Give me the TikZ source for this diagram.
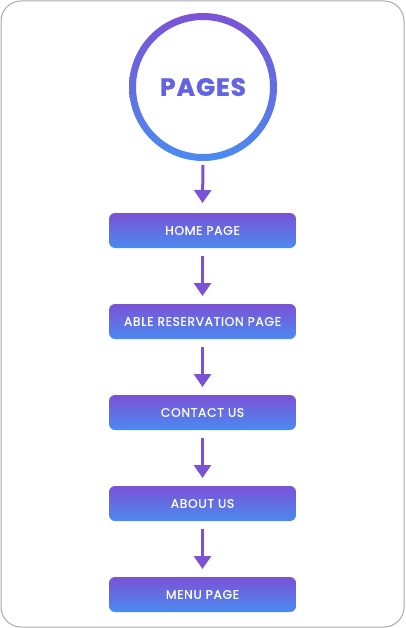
\documentclass[tikz,border=0pt]{standalone}
\usepackage{fontspec}
\setmainfont{Poppins}
\newfontfamily\boxfont[LetterSpace=5,FakeBold=0.7]{Poppins}
\newfontfamily\titlefont[LetterSpace=4,FakeBold=1.2,UprightFont=*,BoldFont=*]{Poppins Bold}
\usetikzlibrary{arrows.meta}
\definecolor{gpurple}{HTML}{7B52D6}
\definecolor{gblue}{HTML}{4A8BF0}
\definecolor{ptext}{HTML}{6464E0}
\definecolor{frame}{HTML}{AAAAAA}
\tikzset{
  pagebox/.style={rectangle, rounded corners=6pt, top color=gpurple, bottom color=gblue,
    minimum width=187pt, minimum height=35pt, inner sep=0pt, outer sep=0pt,
    text=white, font=\boxfont\fontsize{12.4}{14}\selectfont},
  flowarrow/.style={draw=gpurple, line width=3pt, -{Triangle[width=17pt,length=13pt]}},
}
\begin{document}
\begin{tikzpicture}[x=1pt,y=-1pt]
\useasboundingbox (0,0) rectangle (405,628);
\draw[frame, line width=1pt, rounded corners=20pt] (1,1) rectangle (404,627);
\node[circle, minimum size=148pt, inner sep=0pt, outer sep=0pt, text=ptext,
  font=\titlefont\fontsize{25}{28}\selectfont] (pages) at (203,87) {PAGES};
\shade[even odd rule, top color=gpurple, bottom color=gblue]
  (pages.center) circle (74pt) (pages.center) circle (67pt);
\node[pagebox] (b1) at (202.5,230.5) {HOME PAGE};
\node[pagebox] (b2) at (202.5,321.5) {ABLE RESERVATION PAGE};
\node[pagebox] (b3) at (202.5,412.5) {CONTACT US};
\node[pagebox] (b4) at (202.5,503.5) {ABOUT US};
\node[pagebox] (b5) at (202.5,594.5) {MENU PAGE};
\draw[flowarrow] ([yshift=-4pt]pages.south) -- ([yshift=10pt]b1.north);
\draw[flowarrow] ([yshift=-8pt]b1.south) -- ([yshift=8pt]b2.north);
\draw[flowarrow] ([yshift=-8pt]b2.south) -- ([yshift=8pt]b3.north);
\draw[flowarrow] ([yshift=-8pt]b3.south) -- ([yshift=8pt]b4.north);
\draw[flowarrow] ([yshift=-8pt]b4.south) -- ([yshift=8pt]b5.north);
\end{tikzpicture}
\end{document}
